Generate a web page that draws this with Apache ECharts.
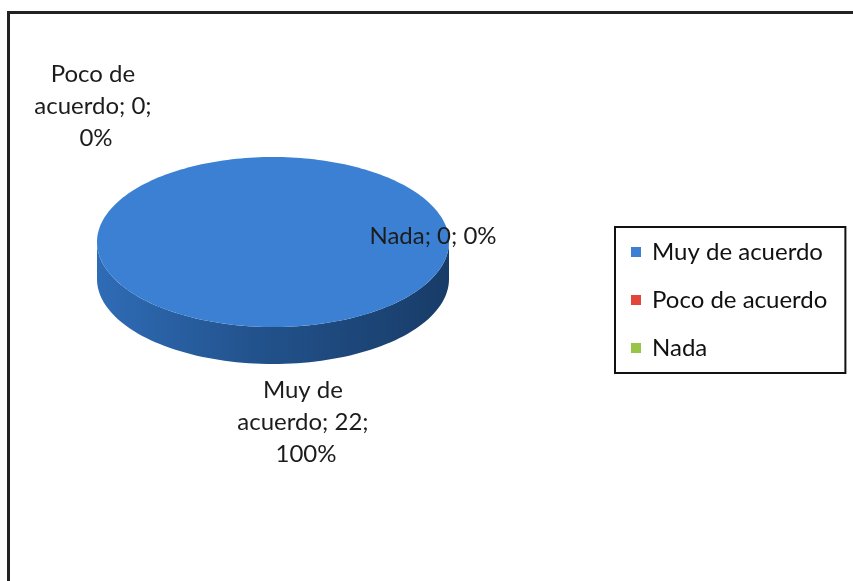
<!DOCTYPE html>
<html>
<head>
<meta charset="utf-8">
<script src="https://cdn.jsdelivr.net/npm/echarts@6/dist/echarts.min.js"></script>
<style>
  html, body { margin: 0; padding: 0; background: #fff; }
  #chart { width: 853px; height: 581px; }
</style>
</head>
<body>
<div id="chart"></div>
<script>
// ---- data ----
const categories = ['Muy de acuerdo', 'Poco de acuerdo', 'Nada'];
const values = [22, 0, 0];

// ---- styles ----
const topColors = ['#3b80d3', '#e2453c', '#98c447'];
const sideColorsLeft = ['#2f6cb6', '#b8322b', '#7aa136'];
const sideColorsRight = ['#183c68', '#7a1f1a', '#4f6a22'];
const FONT = 'Lato, "Open Sans", sans-serif';

// pie geometry (pixels)
const CX = 273, CY = 242, RX = 176, RY = 85, DEPTH = 37;
// label anchor offsets relative to pie centre (Excel-like placement)
const labelOffsets = [[33, 132], [-177, -184], [160, -22]];
const labelWidths = [160, 140, 220];

const total = values.reduce((a, b) => a + b, 0);

function ellipsePt(t, dy) {
  return [CX + RX * Math.cos(t), CY + RY * Math.sin(t) + (dy || 0)];
}

function renderSlice(params, api) {
  const i = params.seriesIndex;
  const v = api.value(0);
  let before = 0;
  for (let k = 0; k < i; k++) before += values[k];
  const a0 = -Math.PI / 2 + before / total * Math.PI * 2;
  const a1 = a0 + v / total * Math.PI * 2;
  const children = [];
  if (v > 0) {
    // visible side (front half: screen angles 0..PI, repeated each turn)
    [[0, Math.PI], [2 * Math.PI, 3 * Math.PI], [-2 * Math.PI, -Math.PI]].forEach(function (r) {
      const s0 = Math.max(a0, r[0]), s1 = Math.min(a1, r[1]);
      if (s1 > s0) {
        const pts = [];
        const n = 90;
        for (let j = 0; j <= n; j++) pts.push(ellipsePt(s0 + (s1 - s0) * j / n, DEPTH));
        for (let j = n; j >= 0; j--) pts.push(ellipsePt(s0 + (s1 - s0) * j / n, 0));
        children.push({
          type: 'polygon',
          shape: { points: pts },
          style: {
            fill: new echarts.graphic.LinearGradient(0, 0, 1, 0, [
              { offset: 0, color: sideColorsLeft[i] },
              { offset: 0.45, color: '#22528c' },
              { offset: 1, color: sideColorsRight[i] }
            ]),
            stroke: null
          }
        });
      }
    });
    // top face
    const tp = [];
    const m = 240;
    if (a1 - a0 < Math.PI * 2 - 1e-6) tp.push([CX, CY]);
    for (let j = 0; j <= m; j++) tp.push(ellipsePt(a0 + (a1 - a0) * j / m, 0));
    children.push({
      type: 'polygon',
      shape: { points: tp },
      style: { fill: topColors[i], stroke: null }
    });
  }
  const pct = Math.round(v / total * 100);
  children.push({
    type: 'text',
    x: CX + labelOffsets[i][0],
    y: CY + labelOffsets[i][1],
    style: {
      text: categories[i] + '; ' + v + '; ' + pct + '%',
      width: labelWidths[i],
      overflow: 'break',
      align: 'center',
      verticalAlign: 'top',
      fontFamily: FONT,
      fontSize: 24,
      lineHeight: 32,
      fill: '#1c1c1c'
    },
    z2: 10
  });
  return { type: 'group', children: children };
}

const series = categories.map(function (name, i) {
  return {
    type: 'custom',
    name: name,
    coordinateSystem: 'none',
    renderItem: renderSlice,
    itemStyle: { color: topColors[i] },
    data: [[values[i]]],
    z: 2 + i,
    silent: true
  };
});

const chart = echarts.init(document.getElementById('chart'), null, { renderer: 'canvas' });
chart.setOption({
  animation: false,
  backgroundColor: '#ffffff',
  graphic: [{
    type: 'rect',
    left: 6, top: 10,
    shape: { width: 900, height: 700 },
    style: { fill: null, stroke: '#222', lineWidth: 3 },
    z: -1
  }],
  legend: {
    data: categories,
    orient: 'vertical',
    left: 615,
    top: 227,
    padding: [13, 18, 13, 16],
    itemGap: 24,
    itemWidth: 10,
    itemHeight: 10,
    icon: 'rect',
    borderColor: '#111',
    borderWidth: 2,
    selectedMode: false,
    textStyle: { fontFamily: FONT, fontSize: 24, lineHeight: 24, color: '#111', padding: [0, 0, 0, 6] }
  },
  series: series
});
</script>
</body>
</html>
